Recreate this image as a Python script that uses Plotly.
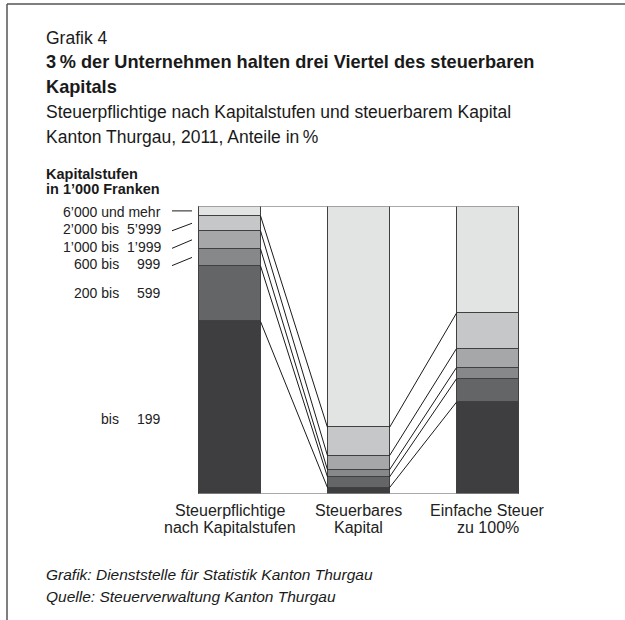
import plotly.graph_objects as go

# ---------------- data ----------------
columns = ["Steuerpflichtige<br>nach Kapitalstufen", "Steuerbares<br>Kapital", "Einfache Steuer<br>zu 100%"]
classes = ["bis 199", "200 bis 599", "600 bis 999", "1’000 bis 1’999", "2’000 bis 5’999", "6’000 und mehr"]
share_steuerpflichtige = [59.9, 19.3, 5.9, 6.3, 5.2, 3.4]
share_kapital = [2.2, 3.7, 2.5, 4.9, 9.8, 76.9]
share_steuer = [31.9, 8.1, 3.9, 6.6, 12.3, 37.2]
colors = ["#3e3e40", "#646567", "#87888a", "#a6a7a9", "#c6c7c8", "#e2e3e3"]

series = [share_steuerpflichtige, share_kapital, share_steuer]

# ---------------- layout constants ----------------
W, H = 625, 620
L, T = 165, 206
PW, PH = 387, 288
R, B = W - L - PW, H - T - PH
BAR_W = 62 / 129

def px_x(p):
    return (p - L) / PW

def px_y(p):
    return 1 - (p - T) / PH

def data_x(p):
    return (p - L) / PW * 3 - 0.5

SANS = "Liberation Sans, Arial, sans-serif"

fig = go.Figure()

# frame lines at 0 % and 100 %
for yv in (0, 100):
    fig.add_trace(go.Scatter(x=[-BAR_W / 2, 2 + BAR_W / 2], y=[yv, yv], mode="lines",
                             line=dict(color="#8c8c8c", width=1.5), hoverinfo="skip", showlegend=False))

# stacked bars
for i, cls in enumerate(classes):
    fig.add_trace(go.Bar(
        x=[0, 1, 2], y=[s[i] for s in series], width=BAR_W, name=cls,
        marker=dict(color=colors[i], line=dict(color="#404040", width=1)),
        showlegend=False, hoverinfo="skip"))

# connector lines between bars at the class boundaries
def cum(vals):
    out, c = [], 0
    for v in vals[:-1]:
        c += v
        out.append(c)
    return out

cums = [cum(s) for s in series]
for k in range(2):
    xs, ys = [], []
    for a, b in zip(cums[k], cums[k + 1]):
        xs += [k + BAR_W / 2, k + 1 - BAR_W / 2, None]
        ys += [a, b, None]
    fig.add_trace(go.Scatter(x=xs, y=ys, mode="lines", line=dict(color="#1a1a1a", width=1),
                             hoverinfo="skip", showlegend=False))

# left class labels and leader lines
label_y = [26.1, 69.8, 79.9, 85.9, 92.0, 98.0]
mids = []
c = 0
for v in share_steuerpflichtige:
    mids.append(c + v / 2)
    c += v
annotations = []
LBL_FONT = dict(family=SANS, size=14, color="#222222")
for i, cls in enumerate(classes):
    if " bis " in cls:
        left, right = cls.split(" bis ")
        left = left + " bis"
    elif cls.startswith("bis "):
        left, right = "bis", cls[4:]
    else:
        left, right = None, cls
    annotations.append(dict(x=px_x(163), y=label_y[i], xref="paper", yref="y", text=right,
                            showarrow=False, xanchor="right", yanchor="middle", font=LBL_FONT))
    if left:
        annotations.append(dict(x=px_x(121), y=label_y[i], xref="paper", yref="y", text=left,
                                showarrow=False, xanchor="right", yanchor="middle", font=LBL_FONT))
lx, ly = [], []
for i in range(2, 6):
    lx += [data_x(172), data_x(192), None]
    ly += [label_y[i] - 0.6 if i < 5 else mids[i], mids[i], None]
fig.add_trace(go.Scatter(x=lx, y=ly, mode="lines", line=dict(color="#1a1a1a", width=1),
                         hoverinfo="skip", showlegend=False))

# column labels
for i, col in enumerate(columns):
    for j, line in enumerate(col.split("<br>")):
        annotations.append(dict(x=i, y=px_y(510 + 17.8 * j), xref="x", yref="paper", text=line,
                                showarrow=False, xanchor="center", yanchor="middle",
                                font=dict(family=SANS, size=16, color="#222222")))

# header texts
def txt(s, px, py, size, family=SANS, color="#1a1a1a"):
    annotations.append(dict(x=px_x(px), y=px_y(py), xref="paper", yref="paper", text=s,
                            showarrow=False, xanchor="left", yanchor="middle",
                            font=dict(family=family, size=size, color=color)))

txt("Grafik 4", 44, 38, 17.5)
txt("<b>3\u2009% der Unternehmen halten drei Viertel des steuerbaren</b>", 44, 62, 18.2)
txt("<b>Kapitals</b>", 44, 87, 18.2)
txt("Steuerpflichtige nach Kapitalstufen und steuerbarem Kapital", 44, 112, 17.5)
txt("Kanton Thurgau, 2011, Anteile in\u2009%", 44, 136.5, 17.5)
txt("<b>Kapitalstufen</b>", 44, 174, 14.5)
txt("<b>in 1’000 Franken</b>", 44, 189.5, 14.5)
txt("<i>Grafik: Dienststelle für Statistik Kanton Thurgau</i>", 44, 574, 15.5)
txt("<i>Quelle: Steuerverwaltung Kanton Thurgau</i>", 44, 596, 15.5)

# outer frame (top and left edges)
shapes = [
    dict(type="line", xref="paper", yref="paper", x0=px_x(7), x1=px_x(625), y0=px_y(4), y1=px_y(4),
         line=dict(color="#555555", width=1.5)),
    dict(type="line", xref="paper", yref="paper", x0=px_x(7), x1=px_x(7), y0=px_y(4), y1=px_y(620),
         line=dict(color="#555555", width=1.5)),
]

fig.update_layout(
    width=W, height=H, margin=dict(l=L, r=R, t=T, b=B),
    paper_bgcolor="white", plot_bgcolor="white",
    barmode="stack", bargap=0,
    xaxis=dict(range=[-0.5, 2.5], visible=False, fixedrange=True),
    yaxis=dict(range=[0, 100], visible=False, fixedrange=True),
    annotations=annotations, shapes=shapes,
)

fig.write_html("out.html", config={"displayModeBar": False},
               post_script="document.body.style.margin='0';document.body.style.overflow='hidden';")
